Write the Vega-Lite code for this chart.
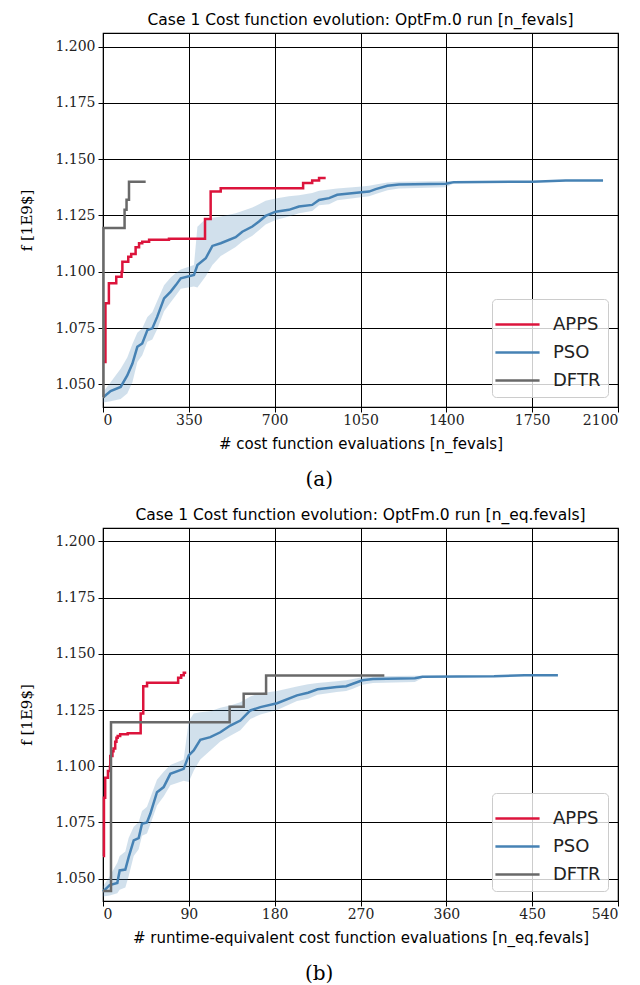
{
  "$schema": "https://vega.github.io/schema/vega-lite/v6.json",
  "padding": {"left": 19, "top": 11, "right": 5, "bottom": 5},
  "background": "white",
  "spacing": 16,
  "config": {
    "view": {"stroke": "black", "strokeWidth": 1.2},
    "axis": {
      "grid": true, "gridColor": "black", "gridWidth": 1, "gridOpacity": 1,
      "domainColor": "black", "tickColor": "black", "tickSize": 5,
      "labelFont": "DejaVu Serif", "labelFontSize": 14, "labelColor": "#222",
      "titleFontWeight": "normal", "titleColor": "black", "labelPadding": 3
    },
    "title": {"font": "DejaVu Sans", "fontSize": 15.5, "fontWeight": "normal", "color": "black"}
  },
  "datasets": {
    "a": [
      {"m": "APPS", "x": 0, "f": 1.0600},
      {"m": "APPS", "x": 10, "f": 1.0860},
      {"m": "APPS", "x": 24, "f": 1.0949},
      {"m": "APPS", "x": 54, "f": 1.0978},
      {"m": "APPS", "x": 76, "f": 1.1000},
      {"m": "APPS", "x": 79, "f": 1.1045},
      {"m": "APPS", "x": 103, "f": 1.1067},
      {"m": "APPS", "x": 115, "f": 1.1079},
      {"m": "APPS", "x": 133, "f": 1.1109},
      {"m": "APPS", "x": 147, "f": 1.1127},
      {"m": "APPS", "x": 160, "f": 1.1134},
      {"m": "APPS", "x": 188, "f": 1.1142},
      {"m": "APPS", "x": 269, "f": 1.1147},
      {"m": "APPS", "x": 416, "f": 1.1234},
      {"m": "APPS", "x": 439, "f": 1.1356},
      {"m": "APPS", "x": 480, "f": 1.1371},
      {"m": "APPS", "x": 816, "f": 1.1394},
      {"m": "APPS", "x": 853, "f": 1.1405},
      {"m": "APPS", "x": 881, "f": 1.1416},
      {"m": "APPS", "x": 908, "f": 1.1416},
      {"m": "DFTR", "x": 0, "f": 1.0445},
      {"m": "DFTR", "x": 2, "f": 1.1194},
      {"m": "DFTR", "x": 88, "f": 1.1275},
      {"m": "DFTR", "x": 96, "f": 1.1320},
      {"m": "DFTR", "x": 106, "f": 1.1400},
      {"m": "DFTR", "x": 174, "f": 1.1400},
      {"m": "PSO", "x": 0, "f": 1.0442, "lo": 1.0420, "hi": 1.0465},
      {"m": "PSO", "x": 31, "f": 1.0471, "lo": 1.0425, "hi": 1.0510},
      {"m": "PSO", "x": 72, "f": 1.0489, "lo": 1.0435, "hi": 1.0570},
      {"m": "PSO", "x": 99, "f": 1.0540, "lo": 1.0460, "hi": 1.0620},
      {"m": "PSO", "x": 120, "f": 1.0593, "lo": 1.0510, "hi": 1.0680},
      {"m": "PSO", "x": 140, "f": 1.0667, "lo": 1.0600, "hi": 1.0730},
      {"m": "PSO", "x": 160, "f": 1.0682, "lo": 1.0630, "hi": 1.0750},
      {"m": "PSO", "x": 181, "f": 1.0741, "lo": 1.0690, "hi": 1.0800},
      {"m": "PSO", "x": 201, "f": 1.0749, "lo": 1.0700, "hi": 1.0820},
      {"m": "PSO", "x": 221, "f": 1.0800, "lo": 1.0745, "hi": 1.0870},
      {"m": "PSO", "x": 249, "f": 1.0882, "lo": 1.0825, "hi": 1.0940},
      {"m": "PSO", "x": 276, "f": 1.0912, "lo": 1.0865, "hi": 1.0975},
      {"m": "PSO", "x": 297, "f": 1.0941, "lo": 1.0895, "hi": 1.0995},
      {"m": "PSO", "x": 317, "f": 1.0971, "lo": 1.0925, "hi": 1.1010},
      {"m": "PSO", "x": 371, "f": 1.0986, "lo": 1.0935, "hi": 1.1030},
      {"m": "PSO", "x": 385, "f": 1.1030, "lo": 1.0930, "hi": 1.1200},
      {"m": "PSO", "x": 419, "f": 1.1060, "lo": 1.0980, "hi": 1.1235},
      {"m": "PSO", "x": 446, "f": 1.1115, "lo": 1.1030, "hi": 1.1240},
      {"m": "PSO", "x": 480, "f": 1.1127, "lo": 1.1070, "hi": 1.1245},
      {"m": "PSO", "x": 541, "f": 1.1154, "lo": 1.1110, "hi": 1.1260},
      {"m": "PSO", "x": 568, "f": 1.1178, "lo": 1.1135, "hi": 1.1270},
      {"m": "PSO", "x": 609, "f": 1.1201, "lo": 1.1160, "hi": 1.1285},
      {"m": "PSO", "x": 636, "f": 1.1223, "lo": 1.1185, "hi": 1.1300},
      {"m": "PSO", "x": 663, "f": 1.1248, "lo": 1.1210, "hi": 1.1315},
      {"m": "PSO", "x": 704, "f": 1.1267, "lo": 1.1230, "hi": 1.1325},
      {"m": "PSO", "x": 758, "f": 1.1275, "lo": 1.1245, "hi": 1.1335},
      {"m": "PSO", "x": 799, "f": 1.1290, "lo": 1.1260, "hi": 1.1340},
      {"m": "PSO", "x": 853, "f": 1.1297, "lo": 1.1270, "hi": 1.1350},
      {"m": "PSO", "x": 881, "f": 1.1319, "lo": 1.1295, "hi": 1.1360},
      {"m": "PSO", "x": 922, "f": 1.1327, "lo": 1.1300, "hi": 1.1365},
      {"m": "PSO", "x": 955, "f": 1.1342, "lo": 1.1318, "hi": 1.1370},
      {"m": "PSO", "x": 1044, "f": 1.1352, "lo": 1.1330, "hi": 1.1378},
      {"m": "PSO", "x": 1085, "f": 1.1356, "lo": 1.1335, "hi": 1.1382},
      {"m": "PSO", "x": 1112, "f": 1.1367, "lo": 1.1345, "hi": 1.1388},
      {"m": "PSO", "x": 1160, "f": 1.1382, "lo": 1.1362, "hi": 1.1396},
      {"m": "PSO", "x": 1207, "f": 1.1388, "lo": 1.1370, "hi": 1.1400},
      {"m": "PSO", "x": 1398, "f": 1.1391, "lo": 1.1375, "hi": 1.1403},
      {"m": "PSO", "x": 1430, "f": 1.1398, "lo": 1.1392, "hi": 1.1402},
      {"m": "PSO", "x": 1751, "f": 1.1400},
      {"m": "PSO", "x": 1887, "f": 1.1405},
      {"m": "PSO", "x": 2039, "f": 1.1405}
    ],
    "b": [
      {"m": "APPS", "x": 0, "f": 1.0600},
      {"m": "APPS", "x": 1.0, "f": 1.0860},
      {"m": "APPS", "x": 2.3, "f": 1.0949},
      {"m": "APPS", "x": 5.2, "f": 1.0978},
      {"m": "APPS", "x": 7.3, "f": 1.1000},
      {"m": "APPS", "x": 7.6, "f": 1.1045},
      {"m": "APPS", "x": 9.9, "f": 1.1067},
      {"m": "APPS", "x": 11.0, "f": 1.1079},
      {"m": "APPS", "x": 12.8, "f": 1.1109},
      {"m": "APPS", "x": 14.1, "f": 1.1127},
      {"m": "APPS", "x": 15.4, "f": 1.1134},
      {"m": "APPS", "x": 18.0, "f": 1.1142},
      {"m": "APPS", "x": 25.9, "f": 1.1147},
      {"m": "APPS", "x": 39.5, "f": 1.1234},
      {"m": "APPS", "x": 42.2, "f": 1.1356},
      {"m": "APPS", "x": 46.2, "f": 1.1371},
      {"m": "APPS", "x": 78.8, "f": 1.1394},
      {"m": "APPS", "x": 82.0, "f": 1.1405},
      {"m": "APPS", "x": 84.7, "f": 1.1416},
      {"m": "APPS", "x": 87.3, "f": 1.1416},
      {"m": "DFTR", "x": 0, "f": 1.0445},
      {"m": "DFTR", "x": 8.4, "f": 1.1196},
      {"m": "DFTR", "x": 132.8, "f": 1.1265},
      {"m": "DFTR", "x": 147.5, "f": 1.1322},
      {"m": "DFTR", "x": 171, "f": 1.1404},
      {"m": "DFTR", "x": 295, "f": 1.1404},
      {"m": "PSO", "x": 0, "f": 1.0442, "lo": 1.0420, "hi": 1.0465},
      {"m": "PSO", "x": 7, "f": 1.0471, "lo": 1.0425, "hi": 1.0510},
      {"m": "PSO", "x": 15, "f": 1.0480, "lo": 1.0435, "hi": 1.0570},
      {"m": "PSO", "x": 17.5, "f": 1.0536, "lo": 1.0450, "hi": 1.0600},
      {"m": "PSO", "x": 23.4, "f": 1.0540, "lo": 1.0460, "hi": 1.0620},
      {"m": "PSO", "x": 26.9, "f": 1.0595, "lo": 1.0510, "hi": 1.0680},
      {"m": "PSO", "x": 32.2, "f": 1.0670, "lo": 1.0600, "hi": 1.0730},
      {"m": "PSO", "x": 37.4, "f": 1.0680, "lo": 1.0630, "hi": 1.0750},
      {"m": "PSO", "x": 40.9, "f": 1.0744, "lo": 1.0690, "hi": 1.0800},
      {"m": "PSO", "x": 46.1, "f": 1.0750, "lo": 1.0700, "hi": 1.0820},
      {"m": "PSO", "x": 49.6, "f": 1.0788, "lo": 1.0740, "hi": 1.0860},
      {"m": "PSO", "x": 56.6, "f": 1.0884, "lo": 1.0825, "hi": 1.0940},
      {"m": "PSO", "x": 63.6, "f": 1.0907, "lo": 1.0865, "hi": 1.0975},
      {"m": "PSO", "x": 70.6, "f": 1.0966, "lo": 1.0915, "hi": 1.1005},
      {"m": "PSO", "x": 84.6, "f": 1.0988, "lo": 1.0935, "hi": 1.1030},
      {"m": "PSO", "x": 89.9, "f": 1.1048, "lo": 1.0930, "hi": 1.1200},
      {"m": "PSO", "x": 95.1, "f": 1.1070, "lo": 1.0980, "hi": 1.1235},
      {"m": "PSO", "x": 102, "f": 1.1117, "lo": 1.1030, "hi": 1.1240},
      {"m": "PSO", "x": 112.5, "f": 1.1129, "lo": 1.1070, "hi": 1.1245},
      {"m": "PSO", "x": 123, "f": 1.1151, "lo": 1.1110, "hi": 1.1260},
      {"m": "PSO", "x": 133.5, "f": 1.1181, "lo": 1.1135, "hi": 1.1270},
      {"m": "PSO", "x": 144, "f": 1.1203, "lo": 1.1160, "hi": 1.1285},
      {"m": "PSO", "x": 154.5, "f": 1.1248, "lo": 1.1210, "hi": 1.1310},
      {"m": "PSO", "x": 165, "f": 1.1263, "lo": 1.1230, "hi": 1.1325},
      {"m": "PSO", "x": 182.5, "f": 1.1280, "lo": 1.1250, "hi": 1.1335},
      {"m": "PSO", "x": 203.4, "f": 1.1315, "lo": 1.1290, "hi": 1.1355},
      {"m": "PSO", "x": 215, "f": 1.1327, "lo": 1.1300, "hi": 1.1365},
      {"m": "PSO", "x": 225, "f": 1.1342, "lo": 1.1318, "hi": 1.1370},
      {"m": "PSO", "x": 245, "f": 1.1352, "lo": 1.1330, "hi": 1.1378},
      {"m": "PSO", "x": 255, "f": 1.1356, "lo": 1.1335, "hi": 1.1382},
      {"m": "PSO", "x": 262, "f": 1.1367, "lo": 1.1345, "hi": 1.1388},
      {"m": "PSO", "x": 272, "f": 1.1382, "lo": 1.1362, "hi": 1.1396},
      {"m": "PSO", "x": 283, "f": 1.1388, "lo": 1.1370, "hi": 1.1400},
      {"m": "PSO", "x": 327, "f": 1.1391, "lo": 1.1375, "hi": 1.1403},
      {"m": "PSO", "x": 335, "f": 1.1398, "lo": 1.1392, "hi": 1.1402},
      {"m": "PSO", "x": 410, "f": 1.1400},
      {"m": "PSO", "x": 442, "f": 1.1405},
      {"m": "PSO", "x": 477, "f": 1.1405}
    ]
  },
  "vconcat": [
    {
      "title": {"text": "(a)", "orient": "bottom", "anchor": "middle", "font": "DejaVu Serif", "fontSize": 20, "offset": 18},
      "resolve": {"scale": {"color": "independent"}, "legend": {"color": "independent"}},
      "vconcat": [
        {
          "width": 515, "height": 374,
          "title": {"text": "Case 1 Cost function evolution: OptFm.0 run [n_fevals]", "offset": 5},
          "data": {"name": "a"},
          "encoding": {
            "x": {"field": "x", "type": "quantitative", "scale": {"domain": [0, 2100], "nice": false},
                  "axis": {"values": [0, 350, 700, 1050, 1400, 1750, 2100], "format": "d", "labelPadding": 1, "title": "# cost function evaluations [n_fevals]", "titleFont": "DejaVu Sans", "titleFontSize": 15, "titlePadding": 9}}
          },
          "layer": [
            {
              "transform": [{"filter": "datum.m === 'PSO' && isValid(datum.lo)"}],
              "mark": {"type": "area", "color": "#4682b4", "opacity": 0.25},
              "encoding": {
                "y": {"field": "lo", "type": "quantitative", "scale": {"domain": [1.04, 1.206], "nice": false, "zero": false}},
                "y2": {"field": "hi"}
              }
            },
            {
              "transform": [{"filter": "datum.m === 'PSO'"}],
              "mark": {"type": "line", "strokeWidth": 2.5},
              "encoding": {
                "y": {"field": "f", "type": "quantitative"},
                "color": {"field": "m", "type": "nominal", "scale": {"domain": ["APPS", "PSO", "DFTR"], "range": ["#dc143c", "#4682b4", "#696969"]},
                  "legend": {"orient": "bottom-right", "offset": 10, "title": null, "fillColor": "rgba(255,255,255,0.8)", "strokeColor": "#cccccc", "cornerRadius": 4, "padding": 7, "symbolType": "M-1.28,0H1.28", "symbolSize": 1190, "symbolStrokeWidth": 2.5, "labelFont": "DejaVu Sans", "labelFontSize": 18, "labelColor": "#222", "labelOffset": 17, "rowPadding": 0}}
              }
            },
            {
              "transform": [{"filter": "datum.m !== 'PSO'"}],
              "mark": {"type": "line", "strokeWidth": 2.5, "interpolate": "step-after"},
              "encoding": {
                "y": {"field": "f", "type": "quantitative", "scale": {"domain": [1.04, 1.206], "nice": false, "zero": false},
                      "axis": {"values": [1.05, 1.075, 1.1, 1.125, 1.15, 1.175, 1.2], "format": ".3f", "title": "f [1E9$]", "titleFont": "DejaVu Serif", "titleFontSize": 15, "titlePadding": 20}},
                "color": {"field": "m", "type": "nominal"}
              }
            }
          ]
        }
      ]
    },
    {
      "title": {"text": "(b)", "orient": "bottom", "anchor": "middle", "font": "DejaVu Serif", "fontSize": 20, "offset": 18},
      "resolve": {"scale": {"color": "independent"}, "legend": {"color": "independent"}},
      "vconcat": [
        {
          "width": 515, "height": 373,
          "title": {"text": "Case 1 Cost function evolution: OptFm.0 run [n_eq.fevals]", "offset": 5},
          "data": {"name": "b"},
          "encoding": {
            "x": {"field": "x", "type": "quantitative", "scale": {"domain": [0, 540], "nice": false},
                  "axis": {"values": [0, 90, 180, 270, 360, 450, 540], "format": "d", "labelPadding": 1, "title": "# runtime-equivalent cost function evaluations [n_eq.fevals]", "titleFont": "DejaVu Sans", "titleFontSize": 15, "titlePadding": 9}}
          },
          "layer": [
            {
              "transform": [{"filter": "datum.m === 'PSO' && isValid(datum.lo)"}],
              "mark": {"type": "area", "color": "#4682b4", "opacity": 0.25},
              "encoding": {
                "y": {"field": "lo", "type": "quantitative", "scale": {"domain": [1.04, 1.206], "nice": false, "zero": false}},
                "y2": {"field": "hi"}
              }
            },
            {
              "transform": [{"filter": "datum.m === 'PSO'"}],
              "mark": {"type": "line", "strokeWidth": 2.5},
              "encoding": {
                "y": {"field": "f", "type": "quantitative"},
                "color": {"field": "m", "type": "nominal", "scale": {"domain": ["APPS", "PSO", "DFTR"], "range": ["#dc143c", "#4682b4", "#696969"]},
                  "legend": {"orient": "bottom-right", "offset": 10, "title": null, "fillColor": "rgba(255,255,255,0.8)", "strokeColor": "#cccccc", "cornerRadius": 4, "padding": 7, "symbolType": "M-1.28,0H1.28", "symbolSize": 1190, "symbolStrokeWidth": 2.5, "labelFont": "DejaVu Sans", "labelFontSize": 18, "labelColor": "#222", "labelOffset": 17, "rowPadding": 0}}
              }
            },
            {
              "transform": [{"filter": "datum.m !== 'PSO'"}],
              "mark": {"type": "line", "strokeWidth": 2.5, "interpolate": "step-after"},
              "encoding": {
                "y": {"field": "f", "type": "quantitative", "scale": {"domain": [1.04, 1.206], "nice": false, "zero": false},
                      "axis": {"values": [1.05, 1.075, 1.1, 1.125, 1.15, 1.175, 1.2], "format": ".3f", "title": "f [1E9$]", "titleFont": "DejaVu Serif", "titleFontSize": 15, "titlePadding": 20}},
                "color": {"field": "m", "type": "nominal"}
              }
            }
          ]
        }
      ]
    }
  ],
  "resolve": {"scale": {"color": "independent"}, "legend": {"color": "independent"}}
}
